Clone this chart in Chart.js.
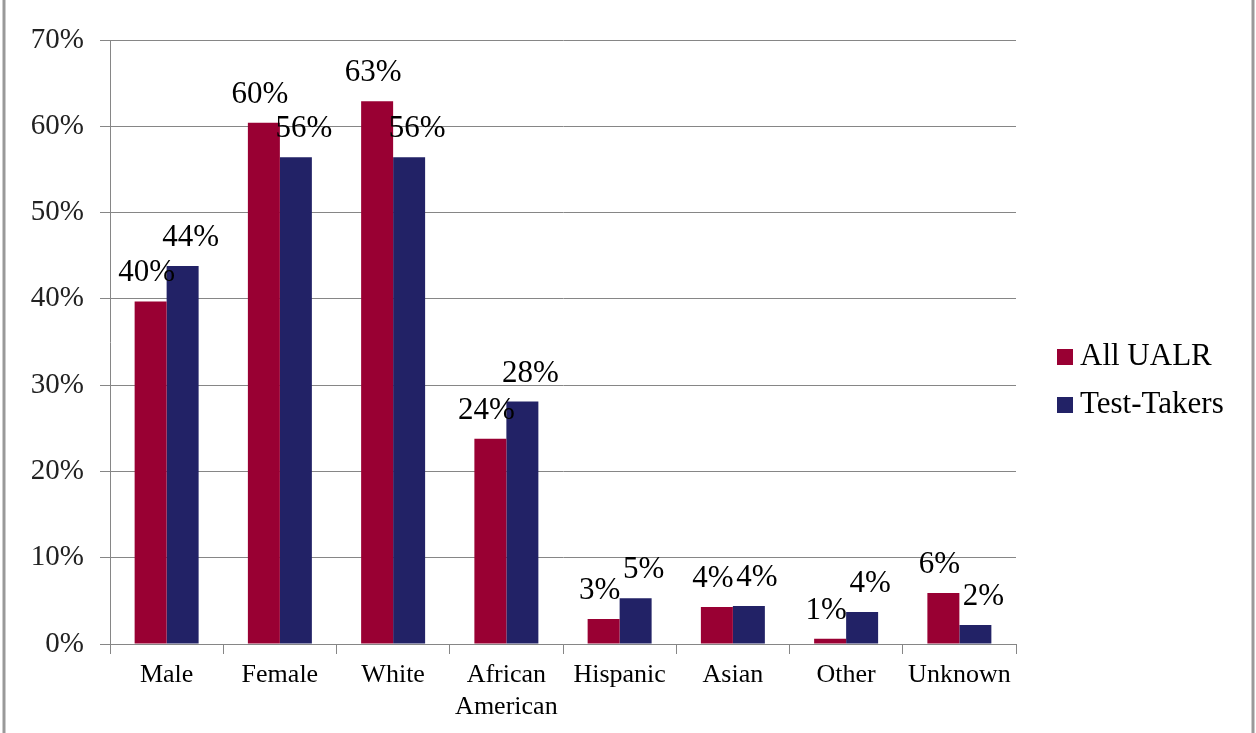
<!DOCTYPE html>
<html>
<head>
<meta charset="utf-8">
<script src="https://cdn.jsdelivr.net/npm/chart.js@4.4.0/dist/chart.umd.min.js"></script>
<style>
  html, body { margin: 0; padding: 0; background: #fff; }
  #wrap { position: relative; width: 1256px; height: 733px; }
</style>
</head>
<body>
<div id="wrap"><canvas id="demoChart" width="1256" height="733"></canvas></div>
<script>
// chart data
const categories = ['Male', 'Female', 'White', ['African', 'American'], 'Hispanic', 'Asian', 'Other', 'Unknown'];
const allUalr = [39.7, 60.4, 62.9, 23.8, 2.9, 4.3, 0.6, 5.9];
const testTakers = [43.8, 56.4, 56.4, 28.1, 5.3, 4.4, 3.7, 2.2];
const seriesNames = ['All UALR', 'Test-Takers'];
const seriesColors = ['#990033', '#222266'];
const yTicks = [0, 10, 20, 30, 40, 50, 60, 70];

const serif = "'Liberation Serif', 'Times New Roman', serif";
const gridGray = '#868686';

// value labels above each bar, nudged apart a little like the original
const barLabels = {
    id: 'barLabels',
    afterDatasetsDraw(chart) {
        const ctx = chart.ctx;
        const nudge = [-4, 8];
        ctx.save();
        ctx.font = '31px ' + serif;
        ctx.fillStyle = '#000';
        ctx.textAlign = 'center';
        ctx.textBaseline = 'alphabetic';
        chart.data.datasets.forEach((ds, i) => {
            chart.getDatasetMeta(i).data.forEach((bar, j) => {
                ctx.fillText(Math.round(ds.data[j]) + '%', bar.x + nudge[i], bar.y - 20);
            });
        });
        ctx.restore();
    }
};

// legend on the right + outer frame
const sideLegend = {
    id: 'sideLegend',
    afterDraw(chart) {
        const ctx = chart.ctx;
        ctx.save();
        ctx.font = '31px ' + serif;
        ctx.textBaseline = 'middle';
        const rows = [357, 405];
        seriesNames.forEach((name, i) => {
            ctx.fillStyle = seriesColors[i];
            ctx.fillRect(1057, rows[i] - 8, 16, 16);
            ctx.fillStyle = '#000';
            ctx.fillText(name, 1080, rows[i]);
        });
        ctx.strokeStyle = '#999';
        ctx.lineWidth = 3;
        ctx.strokeRect(4, -4, 1249, 745);
        ctx.restore();
    }
};

const ctx = document.getElementById('demoChart').getContext('2d');

const chart = new Chart(ctx, {
    type: 'bar',
    data: {
        labels: categories,
        datasets: [
            { label: seriesNames[0], data: allUalr, backgroundColor: seriesColors[0] },
            { label: seriesNames[1], data: testTakers, backgroundColor: seriesColors[1] }
        ]
    },
    options: {
        responsive: false,
        animation: false,
        layout: { padding: { top: 40, right: 240, left: 0, bottom: 0 } },
        datasets: { bar: { categoryPercentage: 0.565, barPercentage: 1.0 } },
        plugins: { legend: { display: false }, tooltip: { enabled: false } },
        scales: {
            x: {
                afterFit(scale) { scale.height = 89; },
                grid: { drawOnChartArea: false, color: gridGray, tickLength: 10 },
                border: { color: gridGray },
                ticks: { color: '#000', font: { family: serif, size: 26 }, padding: 6, maxRotation: 0, autoSkip: false }
            },
            y: {
                min: 0,
                max: 70,
                afterFit(scale) { scale.width = 110; },
                afterBuildTicks(scale) { scale.ticks = yTicks.map(v => ({ value: v })); },
                grid: { color: gridGray, tickLength: 10 },
                border: { color: gridGray },
                ticks: {
                    color: '#222',
                    font: { family: serif, size: 29 },
                    padding: 16,
                    callback: v => v + '%'
                }
            }
        }
    },
    plugins: [barLabels, sideLegend]
});
</script>
</body>
</html>
